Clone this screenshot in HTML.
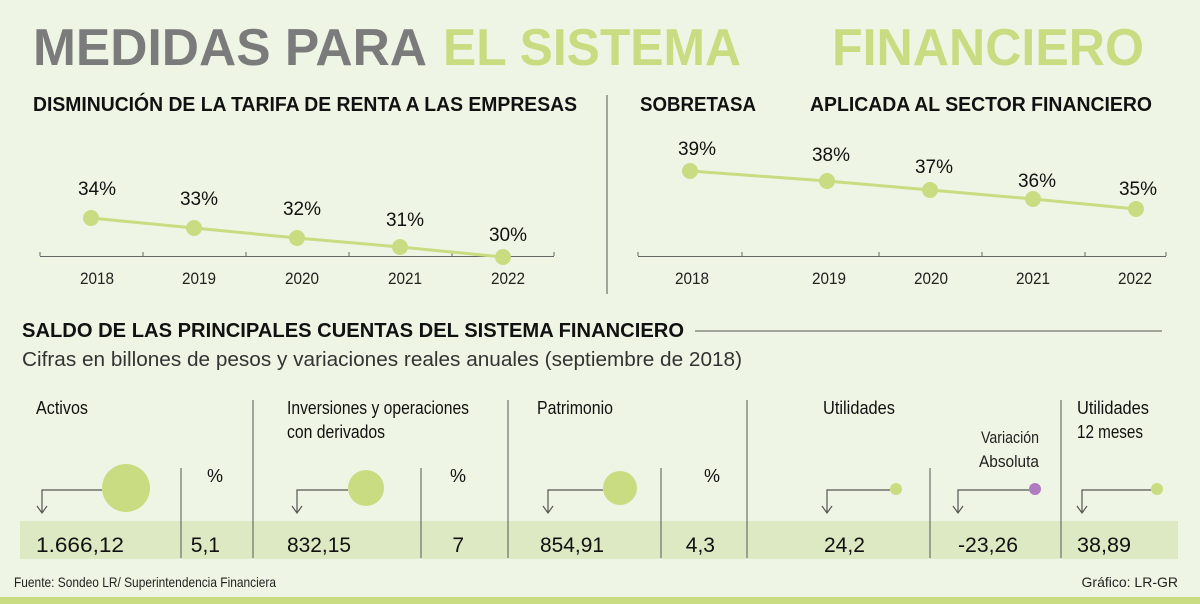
<!DOCTYPE html>
<html><head><meta charset="utf-8"><style>
html,body{margin:0;padding:0;background:#eff5e4;}
svg{display:block;font-family:"Liberation Sans",sans-serif;}
</style></head><body>
<svg width="1200" height="604" viewBox="0 0 1200 604" xmlns="http://www.w3.org/2000/svg">
<rect width="1200" height="604" fill="#eff5e4"/>
<!-- Title -->
<text x="33" y="65" font-size="52" font-weight="bold" fill="#7b7b7b" textLength="394" lengthAdjust="spacingAndGlyphs">MEDIDAS PARA</text>
<text x="443" y="65" font-size="52" font-weight="bold" fill="#c9dc82" textLength="298" lengthAdjust="spacingAndGlyphs">EL SISTEMA</text>
<text x="832" y="65" font-size="52" font-weight="bold" fill="#c9dc82" textLength="312" lengthAdjust="spacingAndGlyphs">FINANCIERO</text>
<!-- subtitles -->
<g font-size="20" font-weight="bold" fill="#111">
<text x="33" y="111" textLength="544" lengthAdjust="spacingAndGlyphs">DISMINUCIÓN DE LA TARIFA DE RENTA A LAS EMPRESAS</text>
<text x="640" y="111" textLength="116" lengthAdjust="spacingAndGlyphs">SOBRETASA</text>
<text x="810" y="111" textLength="342" lengthAdjust="spacingAndGlyphs">APLICADA AL SECTOR FINANCIERO</text>
</g>
<line x1="607" y1="95" x2="607" y2="294" stroke="#555" stroke-width="1"/>
<!-- left chart -->
<g stroke="#666" stroke-width="1">
<line x1="40" y1="256.5" x2="554" y2="256.5"/>
<line x1="40" y1="252" x2="40" y2="256"/><line x1="143" y1="252" x2="143" y2="256"/><line x1="246" y1="252" x2="246" y2="256"/><line x1="349" y1="252" x2="349" y2="256"/><line x1="452" y1="252" x2="452" y2="256"/><line x1="554" y1="252" x2="554" y2="256"/>
</g>
<polyline points="91,218 194,228 297,238 400,247 503,257" fill="none" stroke="#c9dc82" stroke-width="3"/>
<g fill="#c9dc82"><circle cx="91" cy="218" r="8"/><circle cx="194" cy="228" r="8"/><circle cx="297" cy="238" r="8"/><circle cx="400" cy="247" r="8"/><circle cx="503" cy="257" r="8"/></g>
<g font-size="19" fill="#111" text-anchor="middle">
<text x="97" y="195">34%</text><text x="199" y="205">33%</text><text x="302" y="215">32%</text><text x="405" y="226">31%</text><text x="508" y="241">30%</text>
</g>
<g font-size="17" fill="#222" text-anchor="middle">
<text x="97" y="284" textLength="34" lengthAdjust="spacingAndGlyphs">2018</text><text x="199" y="284" textLength="34" lengthAdjust="spacingAndGlyphs">2019</text><text x="302" y="284" textLength="34" lengthAdjust="spacingAndGlyphs">2020</text><text x="405" y="284" textLength="34" lengthAdjust="spacingAndGlyphs">2021</text><text x="508" y="284" textLength="34" lengthAdjust="spacingAndGlyphs">2022</text>
</g>
<!-- right chart -->
<g stroke="#666" stroke-width="1">
<line x1="638" y1="256.5" x2="1166" y2="256.5"/>
<line x1="638" y1="252" x2="638" y2="256"/><line x1="742" y1="252" x2="742" y2="256"/><line x1="879" y1="252" x2="879" y2="256"/><line x1="982" y1="252" x2="982" y2="256"/><line x1="1085" y1="252" x2="1085" y2="256"/><line x1="1166" y1="252" x2="1166" y2="256"/>
</g>
<polyline points="690,171 827,181 930,190 1033,199 1136,209" fill="none" stroke="#c9dc82" stroke-width="3"/>
<g fill="#c9dc82"><circle cx="690" cy="171" r="8"/><circle cx="827" cy="181" r="8"/><circle cx="930" cy="190" r="8"/><circle cx="1033" cy="199" r="8"/><circle cx="1136" cy="209" r="8"/></g>
<g font-size="19" fill="#111" text-anchor="middle">
<text x="697" y="155">39%</text><text x="831" y="161">38%</text><text x="934" y="173">37%</text><text x="1037" y="187">36%</text><text x="1138" y="195">35%</text>
</g>
<g font-size="17" fill="#222" text-anchor="middle">
<text x="692" y="284" textLength="34" lengthAdjust="spacingAndGlyphs">2018</text><text x="829" y="284" textLength="34" lengthAdjust="spacingAndGlyphs">2019</text><text x="931" y="284" textLength="34" lengthAdjust="spacingAndGlyphs">2020</text><text x="1033" y="284" textLength="34" lengthAdjust="spacingAndGlyphs">2021</text><text x="1135" y="284" textLength="34" lengthAdjust="spacingAndGlyphs">2022</text>
</g>
<!-- bottom section -->
<text x="22" y="337" font-size="20" font-weight="bold" fill="#111" textLength="662" lengthAdjust="spacingAndGlyphs">SALDO DE LAS PRINCIPALES CUENTAS DEL SISTEMA FINANCIERO</text>
<line x1="695" y1="331" x2="1162" y2="331" stroke="#555" stroke-width="1"/>
<text x="22" y="366" font-size="20" fill="#333" textLength="720" lengthAdjust="spacingAndGlyphs">Cifras en billones de pesos y variaciones reales anuales (septiembre de 2018)</text>
<rect x="20" y="521" width="1158" height="38" fill="#dde9c3"/>
<g stroke="#555" stroke-width="1">
<line x1="253" y1="400" x2="253" y2="558"/><line x1="508" y1="400" x2="508" y2="558"/><line x1="747" y1="400" x2="747" y2="558"/><line x1="1061" y1="400" x2="1061" y2="558"/>
<line x1="181" y1="468" x2="181" y2="558"/><line x1="421" y1="468" x2="421" y2="558"/><line x1="661" y1="468" x2="661" y2="558"/><line x1="930" y1="468" x2="930" y2="558"/>
</g>
<g font-size="18" fill="#111">
<text x="36" y="414" textLength="52" lengthAdjust="spacingAndGlyphs">Activos</text>
<text x="287" y="414" textLength="182" lengthAdjust="spacingAndGlyphs">Inversiones y operaciones</text>
<text x="287" y="438" textLength="98" lengthAdjust="spacingAndGlyphs">con derivados</text>
<text x="537" y="414" textLength="76" lengthAdjust="spacingAndGlyphs">Patrimonio</text>
<text x="823" y="414" textLength="72" lengthAdjust="spacingAndGlyphs">Utilidades</text>
<text x="1039" y="443" text-anchor="end" font-size="17" fill="#222" textLength="58" lengthAdjust="spacingAndGlyphs">Variación</text>
<text x="1039" y="467" text-anchor="end" font-size="17" fill="#222" textLength="60" lengthAdjust="spacingAndGlyphs">Absoluta</text>
<text x="1077" y="414" textLength="72" lengthAdjust="spacingAndGlyphs">Utilidades</text>
<text x="1077" y="438" textLength="66" lengthAdjust="spacingAndGlyphs">12 meses</text>
<text x="215" y="482" text-anchor="middle">%</text><text x="458" y="482" text-anchor="middle">%</text><text x="712" y="482" text-anchor="middle">%</text>
</g>
<!-- connectors -->
<g fill="none" stroke="#555" stroke-width="1.2">
<path d="M102,490 H42 V512 M37,506 L42,513 L47,506"/>
<path d="M348,490 H297 V512 M292,506 L297,513 L302,506"/>
<path d="M603,490 H548 V512 M543,506 L548,513 L553,506"/>
<path d="M890,490 H827 V512 M822,506 L827,513 L832,506"/>
<path d="M1029,490 H958 V512 M953,506 L958,513 L963,506"/>
<path d="M1151,490 H1082 V512 M1077,506 L1082,513 L1087,506"/>
</g>
<g fill="#c9dc82">
<circle cx="126" cy="488" r="24"/><circle cx="366" cy="488" r="18"/><circle cx="620" cy="488" r="17"/>
<circle cx="896" cy="489" r="6"/><circle cx="1157" cy="489" r="6"/>
</g>
<circle cx="1035" cy="489" r="6" fill="#b07cc0"/>
<g font-size="21" fill="#111">
<text x="36" y="552" textLength="88" lengthAdjust="spacingAndGlyphs">1.666,12</text>
<text x="220" y="552" text-anchor="end">5,1</text>
<text x="287" y="552" textLength="64" lengthAdjust="spacingAndGlyphs">832,15</text>
<text x="464" y="552" text-anchor="end">7</text>
<text x="540" y="552" textLength="64" lengthAdjust="spacingAndGlyphs">854,91</text>
<text x="715" y="552" text-anchor="end">4,3</text>
<text x="824" y="552">24,2</text>
<text x="958" y="552" textLength="60" lengthAdjust="spacingAndGlyphs">-23,26</text>
<text x="1077" y="552" textLength="54" lengthAdjust="spacingAndGlyphs">38,89</text>
</g>
<text x="14" y="587" font-size="14" fill="#222" textLength="262" lengthAdjust="spacingAndGlyphs">Fuente: Sondeo LR/ Superintendencia Financiera</text>
<text x="1178" y="587" font-size="14" fill="#222" text-anchor="end">Gráfico: LR-GR</text>
<rect x="0" y="597" width="1200" height="7" fill="#c9dc82"/>
</svg>
</body></html>
